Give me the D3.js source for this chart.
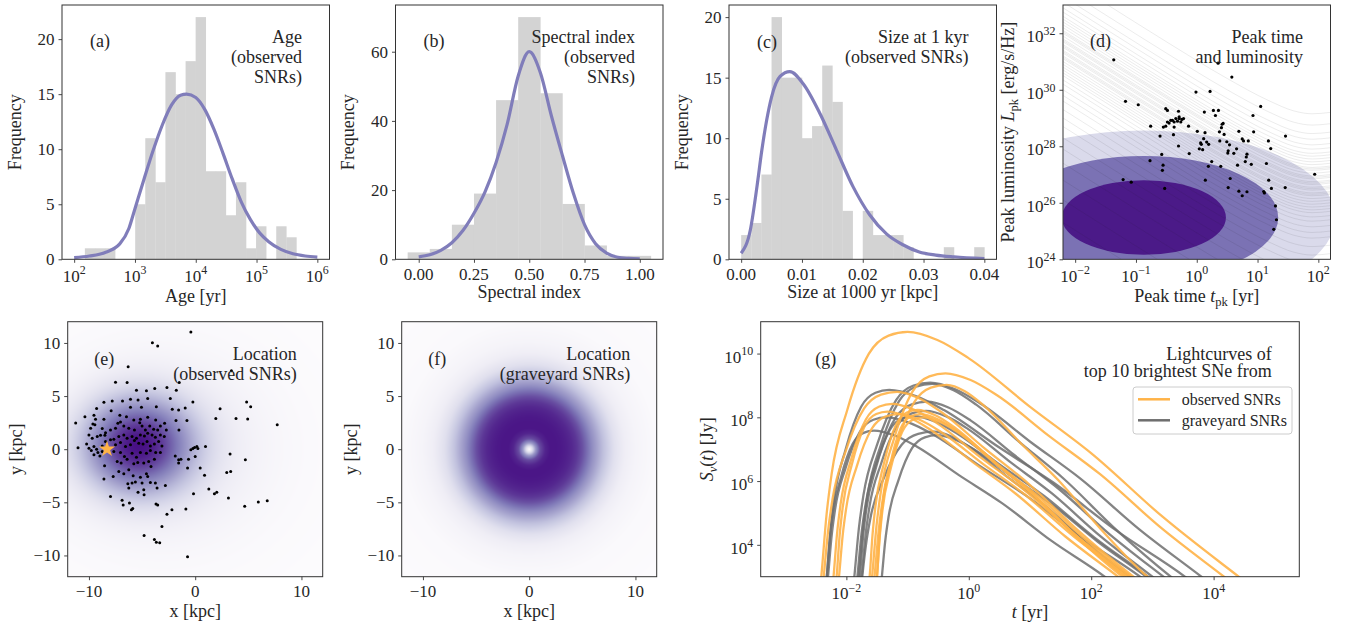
<!DOCTYPE html>
<html><head><meta charset="utf-8">
<script src="https://cdn.jsdelivr.net/npm/d3@7/dist/d3.min.js"></script>
<style>
html,body{margin:0;padding:0;background:#fff;}
svg text{font-family:"Liberation Serif","Times New Roman",serif;fill:#262626;}
</style></head>
<body><svg id="fig" width="1359" height="627"></svg>
<script>
// ---------------- data ----------------
// (a) SNR ages: log10 bin edges [yr] and counts
const ageEdges = [2.176, 2.342, 2.507, 2.673, 2.839, 3.004, 3.170, 3.336, 3.501, 3.667, 3.833, 3.998, 4.164, 4.330, 4.495, 4.661, 4.827, 4.992, 5.158, 5.324, 5.489, 5.655];
const ageCounts = [1, 1, 1, 0, 0, 5, 11, 7, 17, 15, 18, 22, 8, 8, 4, 7, 1, 3, 0, 3, 2];
const ageFitLog = [2.0, 2.25, 2.5, 2.75, 2.9, 3.0, 3.15, 3.3, 3.45, 3.6, 3.75, 3.85, 4.0, 4.15, 4.3, 4.45, 4.6, 4.75, 4.9, 5.05, 5.2, 5.4, 5.6, 5.8, 6.0];
const ageFitFreq = [0.15, 0.3, 0.6, 1.4, 2.8, 4.6, 7.3, 9.9, 12.2, 14.0, 14.9, 15.0, 14.7, 13.6, 11.8, 9.6, 7.3, 5.2, 3.6, 2.4, 1.6, 0.9, 0.5, 0.3, 0.2];

// (b) spectral index
const specEdges = [-0.05, 0.05, 0.15, 0.25, 0.35, 0.45, 0.55, 0.65, 0.75, 0.85, 0.95, 1.05];
const specCounts = [2, 3, 10, 19, 46, 70, 48, 16, 4, 1, 1];
const specFitX = [0, 0.05, 0.1, 0.15, 0.2, 0.25, 0.3, 0.35, 0.4, 0.45, 0.5, 0.55, 0.6, 0.65, 0.7, 0.75, 0.8, 0.85, 0.9, 0.95, 1.0];
const specFitY = [0.7, 1.3, 2.6, 4.8, 8.3, 13.3, 19.5, 28, 39, 53, 60, 54, 41.5, 30, 19, 10, 4.5, 1.8, 0.6, 0.25, 0.1];

// (c) size at 1 kyr [kpc]
const sizeEdges = [0, 0.001667, 0.003333, 0.005, 0.006667, 0.008333, 0.01, 0.011667, 0.013333, 0.015, 0.016667, 0.018333, 0.02, 0.021667, 0.023333, 0.025, 0.026667, 0.028333, 0.03, 0.031667, 0.033333, 0.035, 0.036667, 0.038333, 0.04];
const sizeCounts = [2, 3, 7, 20, 15, 15, 10, 11, 16, 13, 4, 0, 4, 2, 2, 2, 1, 0, 0, 0, 1, 0, 0, 1];
const sizeFitX = [0, 0.0015, 0.0026, 0.0034, 0.0042, 0.005, 0.0064, 0.008, 0.0102, 0.013, 0.0157, 0.0184, 0.0211, 0.0239, 0.0266, 0.0293, 0.032, 0.035, 0.04];
const sizeFitY = [0.5, 2.4, 6, 9, 11.5, 13.4, 15.1, 15.5, 14.5, 12, 9, 6, 3.7, 2.1, 1.2, 0.6, 0.35, 0.2, 0.05];

// (d) peak time / luminosity of observed SNRs (log10 t_pk [yr], log10 L_pk [erg/s/Hz])
const pkLogT = [-1.365, -1.172, -0.962, -0.758, -0.769, -0.604, -0.576, -0.565, -0.554, -0.527, -1.211, -1.078, -0.549, -0.510, -0.510, -0.482, -0.482, -0.455, -0.427, -0.400, -0.372, -0.344, -0.317, -0.289, -0.262, -0.245, -0.217, -0.300, -0.289, -0.383, -0.372, -0.300, -0.135, -0.124, -0.013, 0.009, 0.042, 0.064, 0.075, 0.097, 0.114, 0.125, 0.136, 0.141, 0.163, 0.191, 0.196, 0.219, 0.246, 0.274, 0.307, 0.351, 0.357, 0.373, 0.379, 0.395, 0.406, 0.417, 0.434, 0.450, 0.494, 0.511, 0.517, 0.517, 0.539, 0.550, 0.577, 0.610, 0.655, 0.671, 0.693, 0.693, 0.748, 0.748, 0.770, 0.798, 0.815, 0.826, 0.848, 0.826, 0.897, 0.925, 0.936, 1.052, 1.102, 1.113, 1.146, 1.179, 1.184, 1.217, 1.228, 1.267, 1.295, 1.311, 1.460, 1.455, 1.940];
const pkLogL = [31.06, 29.59, 29.47, 28.71, 27.49, 28.36, 27.71, 27.15, 27.33, 26.51, 26.82, 26.73, 28.68, 28.71, 29.33, 29.27, 28.86, 28.82, 28.92, 28.92, 28.86, 28.98, 28.89, 28.98, 28.86, 28.95, 28.98, 29.24, 29.04, 28.41, 28.68, 28.01, 28.71, 27.74, 29.92, 28.53, 27.91, 28.12, 28.07, 27.88, 28.27, 29.21, 28.48, 26.80, 28.15, 27.29, 28.07, 29.94, 27.46, 29.27, 29.09, 30.94, 29.27, 28.51, 28.19, 27.29, 28.66, 28.78, 28.81, 28.42, 28.16, 27.76, 27.84, 26.54, 28.05, 26.86, 30.45, 27.75, 27.91, 27.33, 28.53, 26.41, 28.26, 26.25, 28.19, 27.46, 27.62, 27.72, 28.19, 26.39, 27.36, 29.09, 28.51, 29.41, 26.40, 26.35, 27.39, 28.19, 26.80, 27.92, 26.51, 25.06, 25.89, 25.40, 28.36, 26.54, 27.01];
// model population contours (log10 space): centre and semi-axes of the three levels
const ellCentre = [-0.87, 25.48];
const ellSemiT = [3.15, 2.21, 1.35];
const ellSemiL = [3.08, 2.18, 1.32];
const ellColor = ['#dadaeb', '#7b72b4', '#4b1a88'];
// detection-threshold tracks: common shape and level at t = 10^-2.2 yr
const trackLogT = [-2.2, -1.5, -0.5, 0.5, 1.2, 1.6, 1.9, 2.2];
const trackDrop = [0, -0.95, -2.3, -3.6, -4.4, -4.75, -4.85, -4.8];
const trackLevel = [25.3, 26.1, 26.8, 27.4, 27.9, 28.3, 28.7, 29.0, 29.3, 29.6, 29.8, 30.0, 30.2, 30.35, 30.5, 30.6, 30.7, 30.8, 30.9, 31.0, 31.1, 31.15, 31.2, 31.3, 31.35, 31.4, 31.5, 31.55, 31.6, 31.7, 31.75, 31.8, 31.9, 32.0, 32.05, 32.1, 32.2, 32.3, 32.4, 32.5, 32.6, 32.75, 32.9, 33.1, 33.3, 33.6, 34.0];

// (e) observed SNR positions [kpc]
const snrX = [-0.41, -4.03, -3.53, -6.31, 3.41, -7.5, -6.41, -1.5, -5.53, -4.59, -3.81, -2.66, -1.78, -8.59, -7.81, -6.84, -6.09, -5.38, -4.47, -2.34, -0.22, 4.84, 5.22, -0.94, -2.16, -1.56, -9.28, -7.91, -6.09, -5.06, -3.66, 2.34, -10.38, -11.25, -9.53, -9.38, -8.59, -7.09, -6.47, -5.78, -5.16, -4.47, -3.72, -2.88, -1.81, -0.78, 1.94, 3.84, 4.94, 7.72, -9.84, -9.63, -9.44, -8.75, -8.44, -7.97, -7.5, -7.28, -7.03, -6.72, -6.25, -5.72, -5.22, -5.0, -4.69, -4.28, -3.91, -3.53, -3.28, -2.72, -1.53, -10.0, -9.69, -9.22, -8.91, -8.5, -7.97, -7.66, -7.19, -6.72, -6.41, -5.94, -5.53, -5.16, -4.78, -4.47, -4.06, -3.75, -3.28, -2.91, -11.03, -10.22, -10.0, -9.78, -9.53, -9.28, -9.16, -9.53, -8.75, -8.44, -7.5, -7.03, -6.56, -6.09, -5.72, -5.31, -4.91, -4.53, -4.22, -3.84, -3.44, -3.13, -8.97, -8.75, -7.66, -7.03, -6.66, -5.94, -5.53, -5.16, -4.59, -4.22, -3.72, -3.28, -0.22, -0.06, 0.16, 0.25, 0.0, 0.97, -0.41, -1.88, -1.56, -1.34, -0.63, 3.28, -8.53, -7.34, -6.97, -6.41, -5.78, -5.41, -4.84, -4.38, -4.16, -3.84, -1.56, -0.72, 0.47, 0.88, 2.97, 3.34, 4.72, -8.59, -7.72, -7.19, -6.72, -6.25, -5.84, -5.16, -4.59, -4.47, -5.63, -6.34, -5.94, -5.0, -4.22, -3.75, -2.81, -7.97, -6.25, -4.84, -5.38, -4.81, -3.59, -0.16, 1.28, 1.81, 2.03, 3.13, 4.66, 5.94, 6.78, -6.88, -6.78, -6.19, -6.0, -5.88, -3.69, -3.53, -2.66, -2.19, -0.88, -3.13, -4.81, -3.84, -3.66, -3.34, -0.72];
const snrY = [11.03, 10.03, 9.72, 7.75, 7.38, 6.31, 6.28, 6.28, 5.56, 5.5, 5.72, 5.81, 5.56, 4.41, 4.53, 4.53, 4.69, 4.63, 4.78, 4.78, 4.44, 4.44, 4.0, 3.88, 3.75, 3.69, 3.84, 3.63, 3.94, 3.94, 4.0, 3.81, 3.06, 2.47, 3.19, 2.81, 2.81, 3.19, 3.06, 2.75, 2.81, 3.0, 2.75, 2.44, 2.69, 2.69, 2.88, 2.88, 2.84, 2.31, 1.97, 2.38, 2.31, 1.94, 1.56, 1.81, 1.97, 2.44, 2.56, 2.19, 1.97, 1.81, 2.5, 2.19, 1.81, 2.19, 1.88, 1.81, 2.19, 1.81, 1.81, 1.34, 1.03, 1.19, 1.31, 1.31, 0.88, 0.94, 1.19, 1.34, 1.03, 1.19, 1.03, 1.34, 1.25, 1.5, 1.34, 1.13, 1.34, 1.19, 0.13, 0.5, 0.09, -0.13, 0.25, 0.0, -0.31, -0.53, 0.31, 0.72, 0.41, 0.63, 0.25, 0.41, 0.81, 0.56, 0.5, 0.72, 0.31, 0.5, 0.72, 0.31, -0.63, -0.22, -0.22, -0.31, -0.69, -0.38, -0.75, -0.31, -0.38, -0.13, -0.31, -0.31, 0.06, 0.16, 0.25, 0.06, -0.69, 0.25, -0.06, -0.63, -1.0, -0.94, -0.94, -0.44, -1.56, -1.16, -1.31, -0.94, -1.38, -1.25, -1.31, -1.16, -1.63, -0.94, -1.31, -1.78, -1.78, -2.44, -2.19, -2.09, -1.0, -2.81, -2.56, -2.09, -2.31, -1.94, -2.5, -2.63, -2.31, -2.56, -3.09, -3.25, -3.19, -3.19, -3.13, -3.19, -3.41, -4.44, -3.66, -3.81, -4.06, -4.28, -3.66, -4.19, -3.75, -4.19, -4.06, -4.59, -5.38, -4.97, -4.84, -4.81, -5.25, -5.06, -5.69, -5.59, -5.16, -5.25, -6.13, -5.69, -5.63, -7.28, -8.13, -8.5, -8.75, -8.81, -10.13];
const sunPos = [-8.3, 0];
// (e) smoothed density of the observed sample: Gaussian components
const eCompX = [-5.4, -3.0], eCompY = [0.4, 0.0], eCompSX = [3.3, 5.8], eCompSY = [2.9, 5.0], eCompW = [1, 0.14];
// (f) radial density profile of the graveyard sample (relative)
const fRadius = [0, 0.3, 0.6, 1.0, 1.5, 2.0, 2.5, 3.0, 3.5, 4.0, 4.5, 5.0, 5.5, 6.0, 7.0, 8.0, 9.0, 10.0, 12.0, 17.0];
const fDensity = [0, 0.25, 0.55, 0.82, 0.95, 1.0, 1.0, 0.99, 0.97, 0.94, 0.89, 0.81, 0.7, 0.58, 0.38, 0.22, 0.12, 0.07, 0.02, 0];

// (g) light curves (log10 t [yr], log10 S [Jy]): onset at 1e3 Jy, peak, and fade to 1e3 Jy
const obsStart = [-2.41, -1.58, -1.54, -2.37, -2.21, -2.16, -2.12, -1.62, -1.5, -1.5];
const obsPeakT = [-1.0, -0.38, -0.36, -1.17, -1.25, -1.33, -1.15, -0.84, -0.8, -0.75];
const obsPeakS = [10.68, 9.38, 9.02, 8.8, 8.42, 8.18, 8.1, 8.23, 8.1, 8.0];
const obsEnd = [4.41, 4.17, 2.92, 2.69, 2.62, 2.44, 2.58, 2.51, 2.55, 2.65];
const gravStart = [-2.32, -2.32, -1.87, -1.82, -1.78, -1.74, -1.42, -1.8, -2.3, -1.75];
const gravPeakT = [-1.3, -1.55, -0.63, -0.68, -0.9, -0.57, -0.52, -0.6, -1.35, -0.7];
const gravPeakS = [8.86, 7.58, 9.09, 8.49, 8.04, 7.55, 7.44, 9.05, 8.0, 8.2];
const gravEnd = [3.53, 2.22, 3.8, 3.18, 2.93, 2.63, 2.9, 3.3, 2.8, 3.0];
// common light-curve profile: rise (fraction of rise time -> fraction of rise) and decline
const riseU = [0, 0.06, 0.12, 0.3, 0.55, 0.78, 1];
const riseF = [0, 0.25, 0.42, 0.68, 0.91, 0.985, 1];
const fallV = [0, 0.09, 0.185, 0.37, 0.555, 0.77, 1];
const fallG = [0, 0.033, 0.108, 0.306, 0.496, 0.755, 1];

// ---------------- drawing ----------------
const svg = d3.select('#fig');
const FS = 17, LS = 18;
const SPINE = '#333';
const FIT = '#807dba';
const BAR = '#d3d3d3';

const boxes = {
  a: {l: 62, r: 329.5, t: 5, b: 259.3},
  b: {l: 395.5, r: 663, t: 5, b: 259.3},
  c: {l: 729, r: 996.5, t: 5, b: 259.3},
  d: {l: 1063, r: 1330.5, t: 5, b: 259.3},
  e: {l: 67.7, r: 322.7, t: 321.7, b: 576.7},
  f: {l: 401.7, r: 656.7, t: 321.7, b: 576.7},
  g: {l: 760.7, r: 1299.3, t: 321.7, b: 576.7}
};
const defs = svg.append('defs');
Object.entries(boxes).forEach(([k, b]) => {
  defs.append('clipPath').attr('id', 'clip-' + k).append('rect')
    .attr('x', b.l).attr('y', b.t).attr('width', b.r - b.l).attr('height', b.b - b.t);
});

const minus = v => String(v).replace('-', '\u2212');

// text with italic / superscript / subscript pieces
function rich(sel, parts, size) {
  let shift = 0;
  for (const [str, kind = ''] of parts) {
    let off = 0, fs = size;
    if (kind.includes('sup')) { off = -0.42 * size; fs = 0.7 * size; }
    if (kind.includes('sub')) { off = 0.22 * size; fs = 0.7 * size; }
    const ts = sel.append('tspan').text(str).attr('font-size', fs);
    if (kind.includes('it')) ts.attr('font-style', 'italic');
    if (off !== shift) ts.attr('dy', off - shift);
    shift = off;
  }
  return sel;
}
const pow10 = v => [['10'], [minus(Math.round(Math.log10(v))), 'sup']];

function axes(key, x, y, xt, yt, xf, yf) {
  const b = boxes[key];
  const g = svg.append('g');
  g.append('g').attr('transform', `translate(0,${b.b})`)
    .call(d3.axisBottom(x).tickValues(xt).tickSize(3.5).tickSizeOuter(0).tickFormat(''))
    .call(s => { s.select('.domain').remove(); s.selectAll('line').attr('stroke', SPINE).attr('stroke-width', 0.9); });
  g.append('g').attr('transform', `translate(${b.l},0)`)
    .call(d3.axisLeft(y).tickValues(yt).tickSize(3.5).tickSizeOuter(0).tickFormat(''))
    .call(s => { s.select('.domain').remove(); s.selectAll('line').attr('stroke', SPINE).attr('stroke-width', 0.9); });
  xt.forEach(v => {
    const t = g.append('text').attr('x', x(v)).attr('y', b.b + (xf === 'log' ? 22.3 : 20.5))
      .attr('text-anchor', 'middle').attr('font-size', FS);
    if (xf === 'log') rich(t, pow10(v), FS); else t.text(xf(v));
  });
  yt.forEach(v => {
    const t = g.append('text').attr('x', b.l - 7.5).attr('y', y(v) + (yf === 'log' ? 9 : 6))
      .attr('text-anchor', 'end').attr('font-size', FS);
    if (yf === 'log') rich(t, pow10(v), FS); else t.text(yf(v));
  });
  g.append('rect').attr('x', b.l).attr('y', b.t).attr('width', b.r - b.l).attr('height', b.b - b.t)
    .attr('fill', 'none').attr('stroke', SPINE).attr('stroke-width', 1);
}

function xLabel(key, parts, dy) {
  const b = boxes[key];
  rich(svg.append('text').attr('x', (b.l + b.r) / 2).attr('y', b.b + dy).attr('text-anchor', 'middle').attr('font-size', LS), parts, LS);
}
function yLabel(key, parts, dx) {
  const b = boxes[key];
  const cx = b.l - dx, cy = (b.t + b.b) / 2;
  rich(svg.append('text').attr('transform', `translate(${cx},${cy}) rotate(-90)`).attr('text-anchor', 'middle').attr('font-size', LS), parts, LS);
}
function tag(key, label, dx, y) {
  const b = boxes[key];
  svg.append('text').attr('x', b.l + dx).attr('y', y).attr('font-size', LS).text(label);
}
function title(key, lines, rightGap, y0, step) {
  const b = boxes[key];
  lines.forEach((s, i) => svg.append('text').attr('x', b.r - rightGap).attr('y', y0 + i * step)
    .attr('text-anchor', 'end').attr('font-size', LS).text(s));
}
function bars(key, x, y, edges, counts, xmap) {
  svg.append('g').selectAll('rect').data(counts).join('rect')
    .attr('x', (c, i) => x(xmap(edges[i])))
    .attr('width', (c, i) => x(xmap(edges[i + 1])) - x(xmap(edges[i])) + 0.3)
    .attr('y', c => y(c)).attr('height', c => y(0) - y(c))
    .attr('fill', BAR);
}
function fitCurve(key, x, y, xs, ys, xmap) {
  const line = d3.line().x(d => x(xmap(d[0]))).y(d => y(d[1])).curve(d3.curveMonotoneX);
  svg.append('path').attr('d', line(xs.map((v, i) => [v, ys[i]])))
    .attr('fill', 'none').attr('stroke', FIT).attr('stroke-width', 3.2).attr('clip-path', 'url(#clip-' + key + ')');
}
const ident = v => v, exp10 = v => Math.pow(10, v);

// ---- (a) age
{
  const b = boxes.a;
  const x = d3.scaleLog().domain([10 ** 1.8, 10 ** 6.2]).range([b.l, b.r]);
  const y = d3.scaleLinear().domain([0, 23.1]).range([b.b, b.t]);
  bars('a', x, y, ageEdges, ageCounts, exp10);
  fitCurve('a', x, y, ageFitLog, ageFitFreq, exp10);
  axes('a', x, y, [1e2, 1e3, 1e4, 1e5, 1e6], [0, 5, 10, 15, 20], 'log', String);
  xLabel('a', [['Age [yr]']], 42.5);
  yLabel('a', [['Frequency']], 41.5);
  tag('a', '(a)', 28, 46.5);
  title('a', ['Age', '(observed', 'SNRs)'], 27.5, 43, 20);
}
// ---- (b) spectral index
{
  const b = boxes.b;
  const x = d3.scaleLinear().domain([-0.105, 1.105]).range([b.l, b.r]);
  const y = d3.scaleLinear().domain([0, 73.5]).range([b.b, b.t]);
  bars('b', x, y, specEdges, specCounts, ident);
  fitCurve('b', x, y, specFitX, specFitY, ident);
  axes('b', x, y, [0, 0.25, 0.5, 0.75, 1.0], [0, 20, 40, 60], d3.format('.2f'), String);
  xLabel('b', [['Spectral index']], 39);
  yLabel('b', [['Frequency']], 41.5);
  tag('b', '(b)', 28, 46.5);
  title('b', ['Spectral index', '(observed', 'SNRs)'], 28, 43, 20);
}
// ---- (c) size
{
  const b = boxes.c;
  const x = d3.scaleLinear().domain([-0.002, 0.042]).range([b.l, b.r]);
  const y = d3.scaleLinear().domain([0, 21]).range([b.b, b.t]);
  bars('c', x, y, sizeEdges, sizeCounts, ident);
  fitCurve('c', x, y, sizeFitX, sizeFitY, ident);
  axes('c', x, y, [0, 0.01, 0.02, 0.03, 0.04], [0, 5, 10, 15, 20], d3.format('.2f'), String);
  xLabel('c', [['Size at 1000 yr [kpc]']], 39);
  yLabel('c', [['Frequency']], 41.5);
  tag('c', '(c)', 28, 47.5);
  title('c', ['Size at 1 kyr', '(observed SNRs)'], 28, 43, 19.5);
}
// ---- (d) peak time vs luminosity
{
  const b = boxes.d;
  const x = d3.scaleLog().domain([10 ** -2.2, 10 ** 2.2]).range([b.l, b.r]);
  const y = d3.scaleLog().domain([1e24, 1e33]).range([b.b, b.t]);
  const g = svg.append('g').attr('clip-path', 'url(#clip-d)');
  const cx = x(10 ** ellCentre[0]), cy = y(10 ** ellCentre[1]);
  ellSemiT.forEach((a, i) => {
    g.append('ellipse').attr('cx', cx).attr('cy', cy)
      .attr('rx', x(10 ** (ellCentre[0] + a)) - cx)
      .attr('ry', cy - y(10 ** (ellCentre[1] + ellSemiL[i])))
      .attr('fill', ellColor[i]);
  });
  const tl = d3.line().x(d => x(10 ** d[0])).y(d => y(10 ** d[1])).curve(d3.curveMonotoneX);
  trackLevel.forEach(lv => {
    g.append('path').attr('d', tl(trackLogT.map((t, i) => [t, lv + trackDrop[i]])))
      .attr('fill', 'none').attr('stroke', '#222').attr('stroke-opacity', 0.11).attr('stroke-width', 0.8);
  });
  g.selectAll('circle').data(pkLogT).join('circle')
    .attr('cx', t => x(10 ** t)).attr('cy', (t, i) => y(10 ** pkLogL[i])).attr('r', 1.6).attr('fill', '#000');
  axes('d', x, y, [1e-2, 1e-1, 1e0, 1e1, 1e2], [1e24, 1e26, 1e28, 1e30, 1e32], 'log', 'log');
  xLabel('d', [['Peak time '], ['t', 'it'], ['pk', 'sub'], [' [yr]']], 42.5);
  yLabel('d', [['Peak luminosity '], ['L', 'it'], ['pk', 'sub'], [' [erg/s/Hz]']], 49);
  tag('d', '(d)', 27, 46.5);
  title('d', ['Peak time', 'and luminosity'], 27.5, 43, 19.5);
}

function heatmap(key, x, y, dens, top, gamma) {
  const b = boxes[key];
  const w = Math.round(b.r - b.l), h = Math.round(b.b - b.t);
  const cv = document.createElement('canvas');
  cv.width = w; cv.height = h;
  const ctx = cv.getContext('2d');
  const im = ctx.createImageData(w, h);
  const vals = new Float32Array(w * h);
  let vmax = 0;
  for (let j = 0; j < h; j++) for (let i = 0; i < w; i++) {
    const v = dens(x.invert(b.l + i + 0.5), y.invert(b.t + j + 0.5));
    vals[j * w + i] = v; if (v > vmax) vmax = v;
  }
  for (let k = 0; k < w * h; k++) {
    const c = d3.rgb(d3.interpolatePurples(top * Math.pow(vals[k] / vmax, gamma)));
    im.data[4 * k] = c.r; im.data[4 * k + 1] = c.g; im.data[4 * k + 2] = c.b; im.data[4 * k + 3] = 255;
  }
  ctx.putImageData(im, 0, 0);
  svg.append('image').attr('x', b.l).attr('y', b.t).attr('width', w).attr('height', h)
    .attr('preserveAspectRatio', 'none').attr('href', cv.toDataURL());
}

// ---- (e) observed locations
{
  const b = boxes.e;
  const x = d3.scaleLinear().domain([-12, 12]).range([b.l, b.r]);
  const y = d3.scaleLinear().domain([-12, 12]).range([b.b, b.t]);
  heatmap('e', x, y, (px, py) => {
    let s = 0;
    for (let k = 0; k < eCompW.length; k++) {
      const dx = (px - eCompX[k]) / eCompSX[k], dy = (py - eCompY[k]) / eCompSY[k];
      s += eCompW[k] * Math.exp(-0.5 * (dx * dx + dy * dy));
    }
    return s;
  }, 0.95, 0.8);
  svg.append('g').attr('clip-path', 'url(#clip-e)').selectAll('circle').data(snrX).join('circle')
    .attr('cx', v => x(v)).attr('cy', (v, i) => y(snrY[i])).attr('r', 1.5).attr('fill', '#000');
  svg.append('path').attr('d', d3.symbol(d3.symbolStar, 80)())
    .attr('transform', `translate(${x(sunPos[0])},${y(sunPos[1])})`).attr('fill', '#ffb347');
  axes('e', x, y, [-10, 0, 10], [-10, -5, 0, 5, 10], minus, minus);
  xLabel('e', [['x [kpc]']], 40);
  yLabel('e', [['y [kpc]']], 46);
  tag('e', '(e)', 26.5, 364.5);
  title('e', ['Location', '(observed SNRs)'], 26, 359.5, 20);
}
// ---- (f) graveyard locations
{
  const b = boxes.f;
  const x = d3.scaleLinear().domain([-12, 12]).range([b.l, b.r]);
  const y = d3.scaleLinear().domain([-12, 12]).range([b.b, b.t]);
  const prof = d3.scaleLinear().domain(fRadius).range(fDensity).clamp(true);
  heatmap('f', x, y, (px, py) => prof(Math.hypot(px, py)), 0.93, 1);
  axes('f', x, y, [-10, 0, 10], [-10, -5, 0, 5, 10], minus, minus);
  xLabel('f', [['x [kpc]']], 40);
  yLabel('f', [['y [kpc]']], 45);
  tag('f', '(f)', 26.5, 364.5);
  title('f', ['Location', '(graveyard SNRs)'], 26.5, 359.5, 20);
}
// ---- (g) light curves
{
  const b = boxes.g;
  const x = d3.scaleLog().domain([10 ** -3.4, 10 ** 5.4]).range([b.l, b.r]);
  const y = d3.scaleLog().domain([1e3, 1e11]).range([b.b, b.t]);
  const line = d3.line().x(d => x(10 ** d[0])).y(d => y(10 ** d[1])).curve(d3.curveMonotoneX);
  function track(s, p, P, e) {
    const pts = [[s - 0.02, 2.6]];
    riseU.forEach((u, i) => pts.push([s + u * (p - s), 3 + riseF[i] * (P - 3)]));
    fallV.slice(1).forEach((v, i) => pts.push([p + v * (e - p), P - fallG[i + 1] * (P - 3)]));
    pts.push([e + 0.27, 2.6]);
    return pts;
  }
  const g = svg.append('g').attr('clip-path', 'url(#clip-g)');
  gravStart.forEach((s, i) => g.append('path').attr('d', line(track(s, gravPeakT[i], gravPeakS[i], gravEnd[i])))
    .attr('fill', 'none').attr('stroke', '#6e6e6e').attr('stroke-opacity', 0.85).attr('stroke-width', 2.3));
  obsStart.forEach((s, i) => g.append('path').attr('d', line(track(s, obsPeakT[i], obsPeakS[i], obsEnd[i])))
    .attr('fill', 'none').attr('stroke', '#ffb347').attr('stroke-opacity', 0.9).attr('stroke-width', 2.3));
  axes('g', x, y, [1e-2, 1e0, 1e2, 1e4], [1e4, 1e6, 1e8, 1e10], 'log', 'log');
  xLabel('g', [['t', 'it'], [' [yr]']], 41.5);
  yLabel('g', [['S', 'it'], ['\u03bd', 'sub it'], ['(', ''], ['t', 'it'], [') [Jy]']], 48);
  tag('g', '(g)', 54.5, 365);
  title('g', ['Lightcurves of', 'top 10 brightest SNe from'], 27.5, 359.5, 17.5);
  // legend
  const lg = svg.append('g').attr('transform', 'translate(1133,387)');
  lg.append('rect').attr('width', 159).attr('height', 47).attr('rx', 3)
    .attr('fill', '#fff').attr('fill-opacity', 0.8).attr('stroke', '#ccc').attr('stroke-width', 1);
  [['observed SNRs', '#ffb347'], ['graveyard SNRs', '#6e6e6e']].forEach(([lab, col], i) => {
    lg.append('line').attr('x1', 5).attr('x2', 37).attr('y1', 12.3 + i * 21).attr('y2', 12.3 + i * 21)
      .attr('stroke', col).attr('stroke-width', 2.5);
    lg.append('text').attr('x', 48.7).attr('y', 18 + i * 21).attr('font-size', 16).text(lab);
  });
}
</script></body></html>
